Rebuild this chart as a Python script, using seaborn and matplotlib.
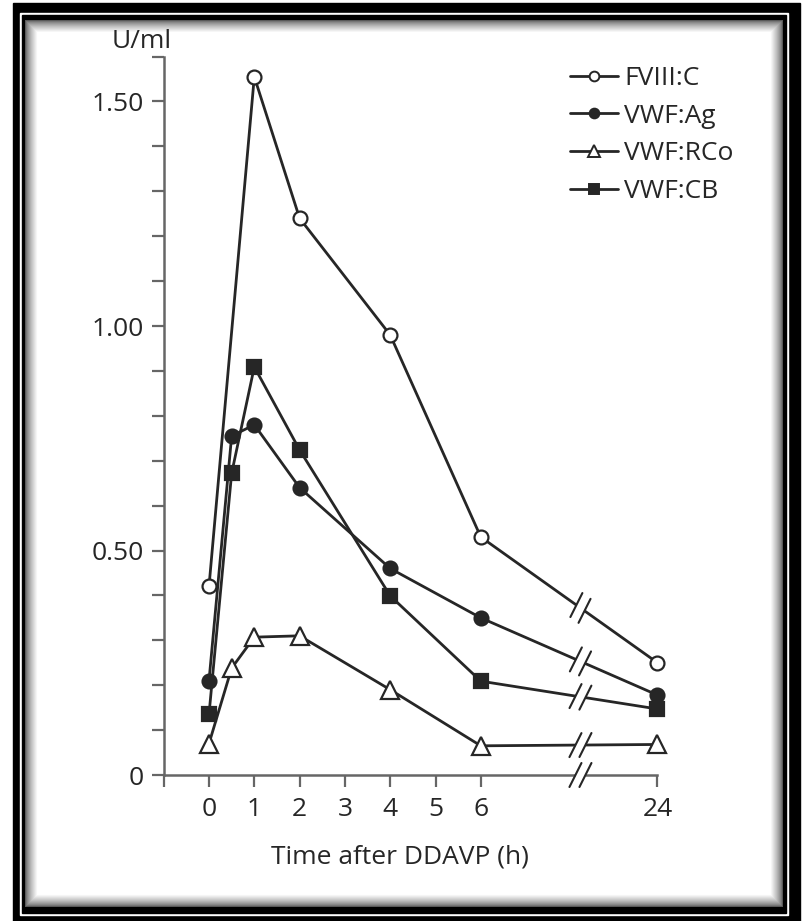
import numpy as np
import pandas as pd
import matplotlib
matplotlib.use("Agg")
import matplotlib.pyplot as plt
from matplotlib.lines import Line2D
from matplotlib.patches import Rectangle
import seaborn as sns

# Values (U/ml); nan = no sample at that time
hours = [0, 0.5, 1, 2, 4, 6, 24]
fviii_c = [0.42, np.nan, 1.555, 1.24, 0.98, 0.53, 0.25]
vwf_ag = [0.21, 0.755, 0.78, 0.64, 0.46, 0.35, 0.178]
vwf_rco = [0.07, 0.238, 0.307, 0.31, 0.19, 0.065, 0.068]
vwf_cb = [0.135, 0.672, 0.909, 0.724, 0.399, 0.209, 0.147]
series_names = ["FVIII:C", "VWF:Ag", "VWF:RCo", "VWF:CB"]
x_tick_hours = [0, 1, 2, 3, 4, 5, 6, 24]
y_ticks = np.round(np.arange(0, 1.61, 0.1), 2)
y_labels = {0.0: "0", 0.5: "0.50", 1.0: "1.00", 1.5: "1.50"}

# broken time axis: 24 h is drawn just past the break
POS_24 = 9.9
BREAK_POS = 8.2


def to_pos(h):
    return h if h <= 6 else POS_24


sns.set_theme(style="white")
plt.rcParams["font.family"] = ["Open Sans", "DejaVu Sans"]
TXT = "#262626"
FS = 19
plt.rcParams["text.color"] = TXT

df = pd.DataFrame({"Hour": hours, "FVIII:C": fviii_c, "VWF:Ag": vwf_ag,
                   "VWF:RCo": vwf_rco, "VWF:CB": vwf_cb})
df_long = df.melt(id_vars="Hour", var_name="Assay", value_name="U/ml")
df_long["Pos"] = df_long["Hour"].map(to_pos)

W, H = 808, 921
fig = plt.figure(figsize=(W / 100, H / 100), dpi=100)

# ---- picture frame (black double border + inner shadow) ----
def fig_rect(x0, y0, x1, y1, **kw):
    fig.add_artist(Rectangle((x0 / W, 1 - y1 / H), (x1 - x0) / W, (y1 - y0) / H,
                             transform=fig.transFigure, **kw))

fig_rect(13, 3, 800, 921, color="black", zorder=0)
fig_rect(20, 13, 788, 915, color="white", zorder=0)
fig_rect(22, 15, 786, 913, color="black", zorder=0)

cx0, cy0, cx1, cy1 = 25, 20, 782, 907
bg = fig.add_axes([cx0 / W, 1 - cy1 / H, (cx1 - cx0) / W, (cy1 - cy0) / H], zorder=0)
gx = np.arange(cx1 - cx0)
gy = np.arange(cy1 - cy0)
dist = np.minimum.outer(np.minimum(gy, gy[::-1]), np.minimum(gx, gx[::-1]))
shade = np.clip(0.35 + 0.65 * (dist / 12.0) ** 0.7, 0, 1)
bg.imshow(shade, cmap="gray", vmin=0, vmax=1, aspect="auto", interpolation="bilinear")
bg.axis("off")

# ---- main axes, placed so 1 h = ~45 px and 1 U/ml = ~449 px ----
xlim = (-1.2, 10.5)
ylim = (-0.05, 1.65)
ax_l, ax_r = 209 + xlim[0] * 45.3, 209 + xlim[1] * 45.3
ax_t, ax_b = 775 - ylim[1] * 449, 775 - ylim[0] * 449
ax = fig.add_axes([ax_l / W, 1 - ax_b / H, (ax_r - ax_l) / W, (ax_b - ax_t) / H], zorder=2)
ax.set_facecolor("none")


def px_frac(px, py):
    return (px - ax_l) / (ax_r - ax_l), 1 - (py - ax_t) / (ax_b - ax_t)


line_col = "#262626"
styles = {
    "FVIII:C": dict(marker="o", markersize=10, markerfacecolor="white"),
    "VWF:Ag": dict(marker="o", markersize=10, markerfacecolor=line_col),
    "VWF:RCo": dict(marker="^", markersize=13, markerfacecolor="white"),
    "VWF:CB": dict(marker="s", markersize=10, markerfacecolor=line_col),
}

for name in series_names:
    sub = df_long[df_long["Assay"] == name].dropna()
    sns.lineplot(data=sub, x="Pos", y="U/ml", color=line_col, linewidth=2,
                 markeredgecolor=line_col, markeredgewidth=1.6, clip_on=False,
                 zorder=4, ax=ax, **styles[name])

ax.set_xlim(*xlim)
ax.set_ylim(*ylim)
for s in ["top", "right"]:
    ax.spines[s].set_visible(False)
for s in ["left", "bottom"]:
    ax.spines[s].set_color("#666666")
    ax.spines[s].set_linewidth(1.8)
ax.spines["left"].set_position(("data", -1))
ax.spines["left"].set_bounds(0, 1.6)
ax.spines["bottom"].set_position(("data", 0))
ax.spines["bottom"].set_bounds(-1, POS_24)

ax.set_xticks([-1] + [to_pos(h) for h in x_tick_hours])
ax.set_xticklabels([""] + [str(h) for h in x_tick_hours])
ax.set_yticks(y_ticks)
ax.set_yticklabels([y_labels.get(float(v), "") for v in y_ticks])
ax.tick_params(axis="both", direction="out", length=8.5, width=1.6, color="#666666",
               labelsize=FS, labelcolor=TXT, bottom=True, left=True)
ax.tick_params(axis="y", pad=6)
ax.tick_params(axis="x", pad=7)
ax.set_xlabel("Time after DDAVP (h)", fontsize=FS, color=TXT)
ax.xaxis.set_label_coords(*px_frac(400, 857))
ax.xaxis.label.set_va("center")
ax.set_ylabel("")
ax.text(*px_frac(142, 41), "U/ml", transform=ax.transAxes, fontsize=FS,
        color=TXT, ha="center", va="center")


# ---- break marks (//) on each curve and on the time axis ----
def break_mark(xc, yc, slope_px):
    cx, cy = ax.transData.transform((xc, yc))
    inv = ax.transData.inverted()
    ux = 1 / np.hypot(1, slope_px)
    uy = slope_px * ux
    gap = 5
    p0 = inv.transform((cx - gap * ux, cy - gap * uy))
    p1 = inv.transform((cx + gap * ux, cy + gap * uy))
    ax.plot([p0[0], p1[0]], [p0[1], p1[1]], color="white", lw=5,
            solid_capstyle="butt", zorder=6, clip_on=False)
    for sx in (-gap, gap):
        mx, my = cx + sx * ux, cy + sx * uy
        a = inv.transform((mx - 6, my - 12))
        b = inv.transform((mx + 6, my + 12))
        ax.plot([a[0], b[0]], [a[1], b[1]], color=line_col, lw=1.5,
                zorder=7, clip_on=False)


for name in series_names:
    y6, y24 = df.loc[df["Hour"] == 6, name].item(), df.loc[df["Hour"] == 24, name].item()
    yb = np.interp(BREAK_POS, [6, POS_24], [y6, y24])
    d6 = ax.transData.transform((6, y6))
    d24 = ax.transData.transform((POS_24, y24))
    break_mark(BREAK_POS, yb, (d24[1] - d6[1]) / (d24[0] - d6[0]))
break_mark(BREAK_POS, 0, 0.0)

# ---- legend ----
handles = [Line2D([], [], color=line_col, lw=2, markeredgecolor=line_col,
                  markeredgewidth=1.4,
                  **{**styles[n], "markersize": styles[n]["markersize"] * 0.7})
           for n in series_names]
fig.legend(handles, series_names, loc="upper left", bbox_to_anchor=(570 / W, 1 - 66 / H),
           bbox_transform=fig.transFigure, frameon=False, fontsize=FS,
           handlelength=1.8, handletextpad=0.25, labelspacing=0.48, borderpad=0,
           borderaxespad=0, labelcolor=TXT)

fig.savefig("out.png", dpi=100)
